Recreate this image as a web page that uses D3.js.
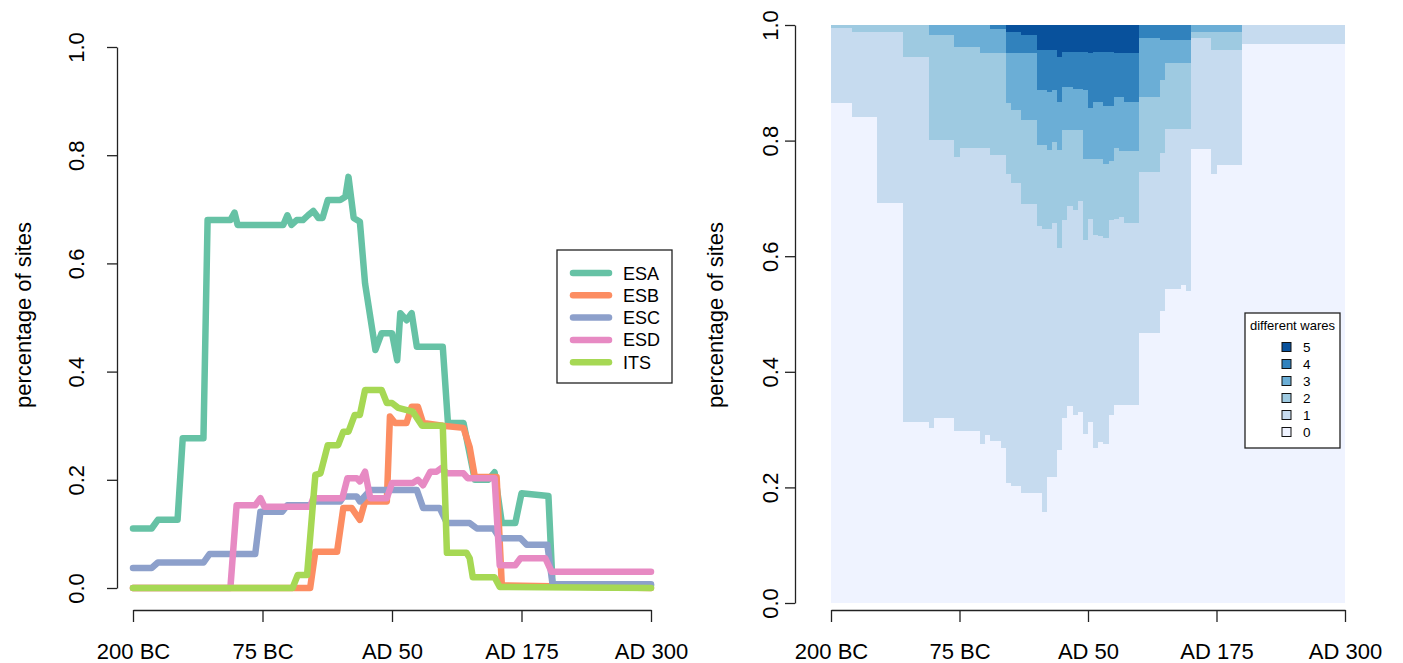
<!DOCTYPE html>
<html>
<head>
<meta charset="utf-8">
<script src="https://cdn.jsdelivr.net/npm/d3@7"></script>
<style>
  body { margin: 0; background: #fff; }
  svg { display: block; font-family: "Liberation Sans", Arial, sans-serif; }
</style>
</head>
<body>
<div id="chart"></div>
<script>
// x axis ticks (years, negative = BC)
var tickYears = [-200, -75, 50, 175, 300];
var tickLabels = ["200 BC", "75 BC", "AD 50", "AD 175", "AD 300"];
var yTicks = [0, 0.2, 0.4, 0.6, 0.8, 1.0];

// left panel: share of sites with each ware, [year, value]
var wareNames = ["ESA", "ESB", "ESC", "ESD", "ITS"];
var wareColors = ["#66C2A5", "#FC8D62", "#8DA0CB", "#E78AC3", "#A6D854"];
var esa = [[-200,0.11],[-182,0.11],[-176,0.126],[-157,0.126],[-152,0.277],[-132,0.277],[-128,0.68],[-106,0.68],[-102,0.694],[-99,0.671],[-55,0.671],[-51,0.689],[-47,0.671],[-42,0.68],[-36,0.68],[-31,0.689],[-26,0.697],[-21,0.684],[-17,0.684],[-12,0.717],[0,0.717],[5,0.723],[8,0.76],[13,0.684],[19,0.677],[24,0.563],[34,0.44],[40,0.471],[50,0.471],[55,0.421],[58,0.508],[64,0.495],[69,0.508],[74,0.446],[99,0.446],[104,0.305],[119,0.305],[130,0.2],[143,0.2],[149,0.214],[156,0.12],[169,0.12],[175,0.175],[201,0.17],[205,0.005],[300,0.005]];
var esb = [[-200,0],[-29,0],[-24,0.067],[-3,0.067],[3,0.148],[11,0.148],[19,0.126],[24,0.16],[45,0.16],[48,0.317],[53,0.305],[64,0.305],[69,0.335],[75,0.335],[80,0.305],[99,0.3],[119,0.296],[125,0.26],[130,0.205],[151,0.205],[156,0.005],[300,0]];
var esc = [[-200,0.037],[-182,0.037],[-176,0.047],[-132,0.047],[-126,0.063],[-82,0.063],[-77,0.141],[-56,0.141],[-51,0.153],[-29,0.153],[-26,0.16],[0,0.16],[3,0.169],[16,0.169],[19,0.16],[29,0.181],[74,0.181],[80,0.148],[96,0.148],[103,0.12],[125,0.12],[132,0.11],[148,0.11],[154,0.092],[174,0.092],[180,0.08],[200,0.08],[205,0.007],[300,0.007]];
var esd = [[-200,0],[-106,0],[-100,0.153],[-82,0.153],[-77,0.166],[-73,0.15],[-29,0.15],[-26,0.166],[2,0.166],[7,0.203],[16,0.203],[19,0.197],[24,0.215],[29,0.166],[45,0.166],[50,0.194],[70,0.194],[75,0.2],[80,0.19],[87,0.215],[93,0.215],[98,0.222],[103,0.212],[119,0.212],[123,0.203],[149,0.203],[154,0.042],[169,0.042],[174,0.055],[198,0.055],[204,0.03],[300,0.03]];
var its = [[-200,0],[-46,0],[-41,0.024],[-32,0.024],[-24,0.209],[-19,0.212],[-12,0.264],[-2,0.264],[3,0.289],[8,0.289],[14,0.32],[19,0.32],[24,0.366],[40,0.366],[45,0.342],[50,0.342],[56,0.333],[70,0.326],[79,0.3],[99,0.3],[103,0.065],[122,0.065],[125,0.055],[128,0.02],[149,0.02],[154,0.002],[300,0]];
var wareSeries = [esa, esb, esc, esd, its];

// right panel: cumulative share of sites with at most k different wares,
// step values [startYear, value]
var waresLevels = ["0", "1", "2", "3", "4", "5"];
var blues = ["#EFF3FF", "#C6DBEF", "#9ECAE1", "#6BAED6", "#3182BD", "#08519C"];
var cum0 = [[-200,0.865],[-180,0.841],[-155,0.692],[-130,0.314],[-105,0.303],[-100,0.32],[-80,0.298],[-55,0.275],[-50,0.291],[-45,0.281],[-35,0.269],[-30,0.207],[-25,0.202],[-15,0.191],[5,0.157],[10,0.218],[20,0.264],[25,0.32],[30,0.341],[35,0.325],[40,0.331],[45,0.292],[50,0.314],[55,0.269],[60,0.279],[65,0.275],[70,0.325],[75,0.343],[100,0.467],[120,0.506],[125,0.543],[140,0.55],[145,0.54],[150,0.786],[170,0.742],[175,0.758],[200,0.967]];
var cum1 = [[-200,0.994],[-180,0.988],[-130,0.944],[-105,0.801],[-80,0.772],[-75,0.787],[-45,0.775],[-30,0.742],[-25,0.726],[-15,0.69],[0,0.652],[5,0.647],[15,0.657],[20,0.614],[25,0.663],[30,0.686],[35,0.68],[40,0.695],[45,0.628],[50,0.665],[55,0.637],[60,0.635],[65,0.631],[70,0.663],[75,0.664],[80,0.668],[85,0.657],[100,0.746],[120,0.779],[125,0.82],[150,0.977],[170,0.956],[200,1]];
var cum2 = [[-200,1],[-105,0.983],[-80,0.9625],[-55,0.951],[-30,0.8645],[-25,0.853],[-15,0.836],[0,0.792],[10,0.784],[15,0.798],[20,0.784],[25,0.818],[45,0.769],[65,0.76],[70,0.765],[75,0.787],[80,0.782],[100,0.876],[120,0.905],[125,0.934],[150,0.988],[200,1]];
var cum3 = [[-200,1],[-45,0.993],[-30,0.951],[0,0.8875],[10,0.884],[15,0.888],[20,0.867],[25,0.893],[35,0.89],[45,0.888],[50,0.856],[55,0.867],[65,0.86],[75,0.876],[85,0.867],[100,0.977],[120,0.974],[150,1]];
var cum4 = [[-200,1],[-30,0.988],[-15,0.983],[0,0.957],[20,0.945],[25,0.954],[50,0.951],[55,0.954],[75,0.952],[85,0.951],[100,1]];
var cumSeries = [cum0, cum1, cum2, cum3, cum4];

var W = 1403, H = 663;
var FS = 22;
var svg = d3.select("#chart").append("svg").attr("width", W).attr("height", H);
svg.append("rect").attr("width", W).attr("height", H).attr("fill", "#fff");

var x1 = d3.scaleLinear().domain([-200, 300]).range([133, 651]);
var y1 = d3.scaleLinear().domain([0, 1]).range([588, 47]);
var x2 = d3.scaleLinear().domain([-200, 300]).range([831, 1345]);
var y2 = d3.scaleLinear().domain([0, 1]).range([603, 25]);

function drawAxes(x, y, yAxisX, xAxisY, labelOff, titleX) {
  var gx = svg.append("g").attr("transform", "translate(0," + xAxisY + ")")
    .call(d3.axisBottom(x).tickValues(tickYears).tickSize(12).tickSizeOuter(0)
      .tickFormat(function (d, i) { return tickLabels[i] }));
  gx.selectAll("text").attr("font-size", FS).attr("dy", 0).attr("y", 49)
    .attr("font-family", "Liberation Sans, Arial, sans-serif").attr("fill", "#000");
  var gy = svg.append("g").attr("transform", "translate(" + yAxisX + ",0)")
    .call(d3.axisLeft(y).tickValues(yTicks).tickSize(10).tickSizeOuter(0)
      .tickFormat(d3.format(".1f")));
  gy.selectAll("text").attr("font-size", FS).attr("transform", "rotate(-90)")
    .attr("x", 0).attr("y", -labelOff).attr("dy", 0).attr("text-anchor", "middle")
    .attr("font-family", "Liberation Sans, Arial, sans-serif").attr("fill", "#000");
  svg.selectAll(".domain, .tick line").attr("stroke", "#222").attr("stroke-width", 1.3);
  svg.append("text").attr("transform", "translate(" + titleX + ",315) rotate(-90)")
    .attr("text-anchor", "middle").attr("font-size", FS).text("percentage of sites");
}

// ---- left panel
drawAxes(x1, y1, 117, 610, 33, 31);
var line = d3.line().x(function (d) { return x1(d[0]) }).y(function (d) { return y1(d[1]) });
svg.append("g").selectAll("path").data(wareSeries).enter().append("path")
  .attr("d", line).attr("fill", "none")
  .attr("stroke", function (d, i) { return wareColors[i] })
  .attr("stroke-width", 6.5).attr("stroke-linejoin", "round").attr("stroke-linecap", "round");

// legend
var lg = svg.append("g").attr("transform", "translate(557,250)");
lg.append("rect").attr("width", 115).attr("height", 133).attr("fill", "#fff")
  .attr("stroke", "#222").attr("stroke-width", 1.3);
wareNames.forEach(function (n, i) {
  var yy = 23 + i * 22.3;
  lg.append("line").attr("x1", 16).attr("x2", 52).attr("y1", yy).attr("y2", yy)
    .attr("stroke", wareColors[i]).attr("stroke-width", 6.5).attr("stroke-linecap", "round");
  lg.append("text").attr("x", 66).attr("y", yy + 6.5).attr("font-size", 18).text(n);
});

// ---- right panel
drawAxes(x2, y2, 795, 610, 17, 723);
function withEnd(s) { return s.concat([[300, s[s.length - 1][1]]]) }
var area = d3.area().curve(d3.curveStepAfter)
  .x(function (d) { return x2(d[0]) }).y0(y2(0)).y1(function (d) { return y2(d[1]) });
var rg = svg.append("g").attr("shape-rendering", "crispEdges");
rg.append("path").attr("d", area([[-200, 1], [300, 1]])).attr("fill", blues[5]);
for (var k = 4; k >= 0; k--) {
  rg.append("path").attr("d", area(withEnd(cumSeries[k]))).attr("fill", blues[k]);
}

// legend
var rl = svg.append("g").attr("transform", "translate(1245,313)");
rl.append("rect").attr("width", 95).attr("height", 135).attr("fill", "#fff")
  .attr("stroke", "#222").attr("stroke-width", 1.3);
rl.append("text").attr("x", 47.5).attr("y", 17).attr("text-anchor", "middle")
  .attr("font-size", 13).text("different wares");
waresLevels.slice().reverse().forEach(function (n, i) {
  var yy = 34 + i * 17;
  rl.append("rect").attr("x", 37).attr("y", yy - 4.5).attr("width", 9).attr("height", 9)
    .attr("fill", blues[5 - i]).attr("stroke", "#111").attr("stroke-width", 1);
  rl.append("text").attr("x", 58).attr("y", yy + 5).attr("font-size", 13.5).text(n);
});
</script>
</body>
</html>
